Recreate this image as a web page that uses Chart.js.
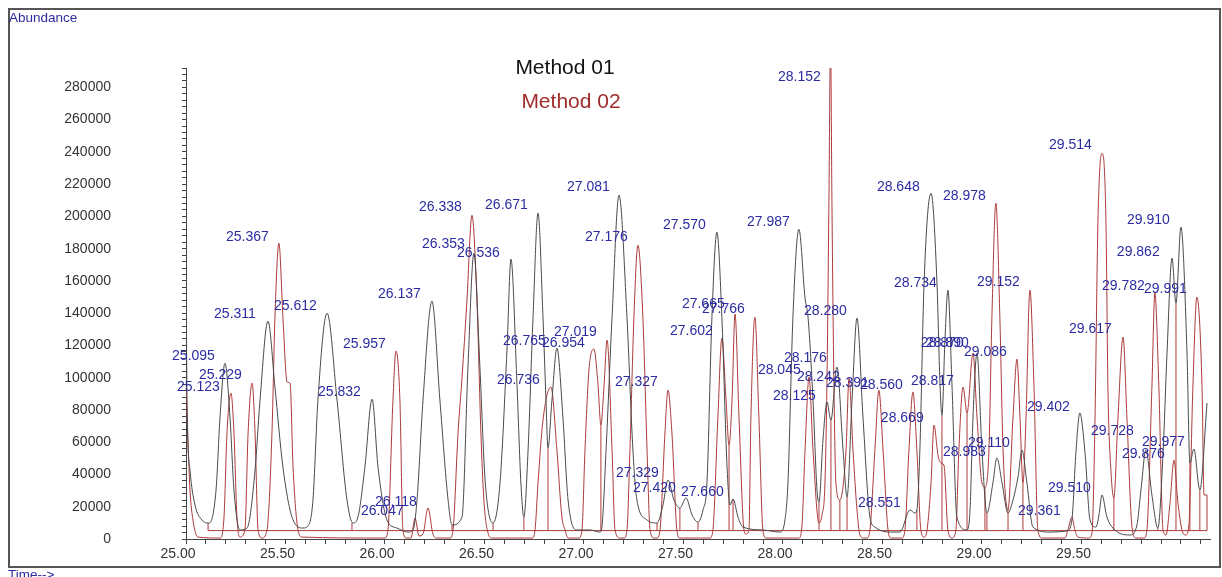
<!DOCTYPE html>
<html>
<head>
<meta charset="utf-8">
<script src="https://cdn.jsdelivr.net/npm/chart.js@4.4.1/dist/chart.umd.min.js"></script>
<style>
html,body{margin:0;padding:0;background:#fff;}
#wrap{width:1222px;height:577px;position:relative;}
</style>
</head>
<body>
<div id="wrap"><canvas id="c"></canvas></div>
<script>
// ---------------- data ----------------
const seriesNames = ['Method 01', 'Method 02'];
const xTickLabels = ['25.00','25.50','26.00','26.50','27.00','27.50','28.00','28.50','29.00','29.50'];
const yTickLabels = ['0','20000','40000','60000','80000','100000','120000','140000','160000','180000','200000','220000','240000','260000','280000'];

// Method 01 (black trace): retention time (min) and abundance
const m1Time = [25.000,25.005,25.020,25.045,25.080,25.116,25.151,25.171,25.196,25.221,25.241,25.271,25.307,25.347,25.372,25.412,25.447,25.487,25.538,25.588,25.613,25.638,25.663,25.709,25.759,25.809,25.839,25.864,25.899,25.935,25.965,26.010,26.060,26.116,26.141,26.161,26.191,26.236,26.276,26.317,26.337,26.387,26.417,26.447,26.477,26.503,26.543,26.578,26.613,26.633,26.663,26.683,26.698,26.719,26.744,26.769,26.794,26.809,26.819,26.839,26.864,26.894,26.920,26.965,27.030,27.080,27.090,27.111,27.141,27.176,27.216,27.246,27.266,27.317,27.367,27.397,27.422,27.452,27.482,27.513,27.543,27.573,27.598,27.618,27.643,27.668,27.693,27.719,27.734,27.749,27.774,27.799,27.899,27.985,28.010,28.025,28.050,28.080,28.111,28.126,28.151,28.171,28.181,28.201,28.221,28.241,28.271,28.302,28.322,28.347,28.372,28.402,28.437,28.462,28.553,28.588,28.638,28.663,28.673,28.688,28.709,28.744,28.774,28.789,28.799,28.814,28.829,28.849,28.874,28.925,28.940,28.955,28.975,29.000,29.025,29.055,29.075,29.101,29.131,29.156,29.181,29.201,29.226,29.256,29.342,29.427,29.452,29.472,29.492,29.518,29.543,29.573,29.588,29.603,29.628,29.668,29.744,29.779,29.799,29.824,29.854,29.884,29.910,29.930,29.955,29.975,30.000,30.030,30.045,30.065,30.095,30.131];
const m1Abund = [185200,86100,42700,21100,11800,9900,30400,75600,109000,75600,30400,5600,6800,42700,86100,135100,94200,44600,11800,6800,8100,24200,86100,140000,86100,24200,9900,13600,44600,86700,44600,11800,6800,4300,5600,24200,86100,147400,86100,24200,8700,13600,106600,177200,106600,36600,9900,34700,117100,173500,96600,34700,13600,55100,137500,202000,137500,86100,56400,86100,118300,75600,24200,5600,5600,4300,7400,55100,137500,213100,137500,55100,24200,11800,9900,21100,36600,24200,19200,25400,14900,10500,18000,34700,137500,190200,137500,44600,21100,24800,13600,7400,5600,4300,11800,34700,137500,192000,149300,137500,86100,30400,22900,61300,84900,73700,106600,55100,26000,86100,136900,75600,13600,7400,4300,4300,18000,16100,18000,55100,158600,214300,158600,96600,76800,123300,154300,96600,13600,5600,18000,75600,115200,55100,16100,34700,50200,34700,16100,24200,38400,55100,34700,7400,4300,5000,11800,53300,78100,53300,11800,7400,14900,27300,13600,5600,2500,8700,30400,55100,27300,6800,53300,115200,174100,146200,193300,117100,47100,55800,30400,84300];

// Method 02 (red trace)
const m2Time = [25.000,25.010,25.020,25.035,25.060,25.171,25.191,25.206,25.226,25.241,25.256,25.271,25.296,25.312,25.332,25.347,25.362,25.382,25.407,25.432,25.447,25.467,25.487,25.508,25.523,25.538,25.563,25.583,26.000,26.015,26.040,26.055,26.075,26.090,26.106,26.131,26.151,26.171,26.191,26.216,26.241,26.261,26.327,26.342,26.367,26.387,26.412,26.437,26.462,26.482,26.497,26.518,26.538,26.739,26.754,26.769,26.794,26.834,26.864,26.889,26.905,26.920,26.975,26.990,27.005,27.025,27.050,27.070,27.085,27.101,27.116,27.141,27.156,27.181,27.201,27.216,27.231,27.251,27.271,27.296,27.317,27.332,27.352,27.367,27.382,27.407,27.422,27.442,27.467,27.482,27.633,27.648,27.673,27.693,27.714,27.729,27.744,27.759,27.779,27.804,27.814,27.829,27.839,27.859,27.879,27.899,27.915,28.080,28.095,28.111,28.131,28.151,28.181,28.196,28.211,28.221,28.231,28.239,28.246,28.256,28.266,28.286,28.317,28.332,28.352,28.372,28.387,28.407,28.422,28.437,28.462,28.482,28.503,28.528,28.543,28.598,28.613,28.633,28.653,28.673,28.693,28.709,28.724,28.744,28.759,28.779,28.794,28.809,28.829,28.849,28.869,28.884,28.905,28.925,28.955,28.975,29.000,29.015,29.035,29.050,29.070,29.090,29.106,29.131,29.156,29.176,29.191,29.206,29.221,29.241,29.261,29.281,29.302,29.417,29.432,29.452,29.467,29.482,29.538,29.553,29.568,29.583,29.603,29.623,29.633,29.648,29.663,29.683,29.709,29.729,29.754,29.774,29.814,29.829,29.854,29.869,29.889,29.910,29.925,29.945,29.965,29.985,30.010,30.025,30.040,30.060,30.080,30.106,30.116,30.131];
const m2Abund = [97300,61300,30400,11800,1200,600,13600,65700,90400,65700,13600,1200,5600,65700,96600,65700,5600,600,5600,65700,137500,183400,137500,97300,96600,44600,5600,1200,600,5600,86100,116500,86100,5600,600,600,13000,1900,3100,19200,3100,600,600,5600,65700,99700,148100,200700,148100,65700,24200,3700,600,600,5600,34700,73700,94200,55100,13600,5600,600,600,5600,55100,104700,117700,96600,70600,95400,123300,55100,5600,600,600,5600,55100,137500,182100,137500,55100,5600,600,600,5600,65700,92300,65700,5600,600,600,5600,75600,124500,86100,58200,86100,139400,75600,5600,3100,5600,75600,137500,75600,5600,600,600,7400,55100,100400,55100,9900,14900,34700,96600,210000,310000,210000,96600,34700,24200,55100,99700,55100,18000,2500,600,600,5600,55100,92300,55100,5600,600,600,5600,55100,91100,55100,5600,1200,5600,34700,70600,52000,47100,45800,5600,600,5600,55100,94200,78100,115200,75600,34700,32200,55100,137500,208200,137500,55100,18000,75600,111500,75600,34700,73700,154300,96600,5600,600,600,5600,13600,5600,1200,600,3700,73700,197600,239100,197600,94200,42700,25400,73700,125100,73700,7400,600,600,5600,94200,152400,94200,5600,2500,22300,48900,22300,3700,2500,8700,94200,149900,94200,27300,27300];

// integration marks (red): common baseline and drop lines
const baselineAbund = 5200;
const baselineStart = 25.111, baselineEnd = 30.131;
const dropTime  = [25.111,25.834,26.337,26.543,26.698,26.819,27.085,27.367,27.482,27.573,27.729,27.749,28.181,28.241,28.286,28.322,28.673,28.799,28.925,29.015,29.025,29.131,29.206,29.663,29.884,29.975,30.045,30.095,30.131];
const dropAbund = [9900,9900,8700,9900,13600,56400,70600,9900,19200,10500,58200,24800,22900,73700,24200,26000,18000,76800,78100,32200,16100,18000,34700,25400,6800,146200,47100,30400,27300];

// peak annotations: text, time and abundance where the text starts
const peakText = ['25.095','25.229','25.123','25.311','25.367','25.612','25.832','25.957','26.137','26.047','26.118','26.338','26.353','26.536','26.671','26.765','26.954','27.019','26.736','27.081','27.176','27.327','27.329','27.420','27.660','27.570','27.665','27.766','27.602','27.987','28.045','28.125','28.176','28.242','28.391','28.560','28.152','28.280','28.551','28.669','28.648','28.734','28.817','28.870','28.890','28.978','29.086','29.110','28.983','29.152','29.402','29.361','29.514','29.510','29.617','29.728','29.782','29.862','29.910','29.991','29.977','29.876'];
const peakTime = [24.930,25.065,24.955,25.141,25.201,25.442,25.663,25.789,25.965,25.879,25.950,26.171,26.186,26.362,26.503,26.593,26.789,26.849,26.563,26.915,27.005,27.156,27.161,27.246,27.487,27.397,27.492,27.593,27.432,27.819,27.874,27.950,28.005,28.070,28.216,28.387,27.975,28.106,28.377,28.492,28.472,28.558,28.643,28.693,28.719,28.804,28.910,28.930,28.804,28.975,29.226,29.181,29.337,29.332,29.437,29.548,29.603,29.678,29.729,29.814,29.804,29.704];
const peakAbund = [113400,101600,94200,139400,187100,144300,91100,120800,151800,17300,22900,205700,182800,177200,206900,122700,121400,128200,98500,218100,187100,97300,40900,31600,29100,194500,145600,142500,128900,196400,104700,88600,112100,100400,96600,95400,286200,141200,22300,75000,218100,158600,97900,121400,121400,212500,115800,59500,53900,159200,81800,17300,244100,31600,130100,66900,156700,177800,197600,154900,60100,52700];

// ---------------- chart ----------------
const FONT = "'Liberation Sans', Arial, Helvetica, sans-serif";
Chart.defaults.font.family = FONT;

const blackData = m1Time.map((t, i) => ({x: t, y: m1Abund[i]}));
const redData = m2Time.map((t, i) => ({x: t, y: m2Abund[i]}));
const markData = [{x: baselineStart, y: baselineAbund}, {x: baselineEnd, y: baselineAbund}, {x: baselineEnd, y: null}];
dropTime.forEach((t, i) => {
  markData.push({x: t, y: baselineAbund}, {x: t, y: dropAbund[i]}, {x: t, y: null});
});

const BLACK = '#4a4a4a';
const RED = '#ad3a3a';
const BLUE = '#2c2ca2';

const decor = {
  id: 'decor',
  beforeDraw(chart) {
    const c = chart.ctx;
    c.save();
    c.fillStyle = '#fff';
    c.fillRect(0, 0, chart.width, chart.height);
    c.strokeStyle = '#555';
    c.lineWidth = 2;
    c.strokeRect(9, 9, 1211, 558);
    c.restore();
  },
  afterDatasetsDraw(chart) {
    const c = chart.ctx, xs = chart.scales.x, ys = chart.scales.y;
    c.save();
    // peak annotations
    c.font = '14px ' + FONT;
    c.fillStyle = BLUE;
    c.textAlign = 'left';
    c.textBaseline = 'middle';
    peakText.forEach((s, i) => {
      c.fillText(s, xs.getPixelForValue(peakTime[i]), ys.getPixelForValue(peakAbund[i]));
    });
    // legend texts
    c.textAlign = 'center';
    c.font = '21px ' + FONT;
    c.fillStyle = '#111';
    c.fillText(seriesNames[0], 565, 68);
    c.fillStyle = '#a02c2c';
    c.fillText(seriesNames[1], 571, 102);
    // axis captions
    c.textAlign = 'left';
    c.textBaseline = 'middle';
    c.font = '13.5px ' + FONT;
    c.fillStyle = BLUE;
    c.fillText('Abundance', 9, 18);
    c.textBaseline = 'top';
    c.fillText('Time-->', 8, 569);
    c.restore();
  }
};

new Chart(document.getElementById('c'), {
  type: 'scatter',
  data: {
    datasets: [
      {label: seriesNames[0], data: blackData, showLine: true, borderColor: BLACK, borderWidth: 1,
       pointRadius: 0, cubicInterpolationMode: 'monotone', order: 0},
      {label: seriesNames[1], data: redData, showLine: true, borderColor: RED, borderWidth: 1,
       pointRadius: 0, cubicInterpolationMode: 'monotone', order: 1},
      {label: 'integration', data: markData, showLine: true, borderColor: RED, borderWidth: 1,
       pointRadius: 0, spanGaps: false, tension: 0, order: 2}
    ]
  },
  options: {
    responsive: true,
    maintainAspectRatio: false,
    animation: false,
    events: [],
    layout: {padding: {left: 0, right: 12, top: 68, bottom: 0}},
    plugins: {legend: {display: false}, tooltip: {enabled: false}, title: {display: false}},
    scales: {
      x: {
        type: 'linear', position: 'bottom', min: 25, max: 30.146,
        afterFit(s) { s.height = 38; },
        border: {display: true, color: '#444', width: 1},
        grid: {display: true, drawOnChartArea: false, drawTicks: true, tickLength: 5, color: '#444', tickColor: '#444'},
        ticks: {
          stepSize: 0.1, autoSkip: false, maxRotation: 0, minRotation: 0, includeBounds: false,
          labelOffset: -8, padding: 2, color: '#333', font: {size: 14},
          callback(v) { const s = Number(v).toFixed(2); return xTickLabels.includes(s) ? s : ''; }
        }
      },
      y: {
        type: 'linear', position: 'left', min: 0, max: 292000,
        afterFit(s) { s.width = 186; s.paddingTop = 8; s.paddingBottom = 8; },
        border: {display: true, color: '#444', width: 1},
        grid: {display: true, drawOnChartArea: false, drawTicks: true, tickLength: 4, color: '#444', tickColor: '#444'},
        ticks: {
          stepSize: 4000, autoSkip: false, includeBounds: false, padding: 71, color: '#333', font: {size: 14},
          callback(v) { const s = String(Math.round(v)); return yTickLabels.includes(s) ? s : ''; }
        }
      }
    }
  },
  plugins: [decor]
});
</script>
</body>
</html>
